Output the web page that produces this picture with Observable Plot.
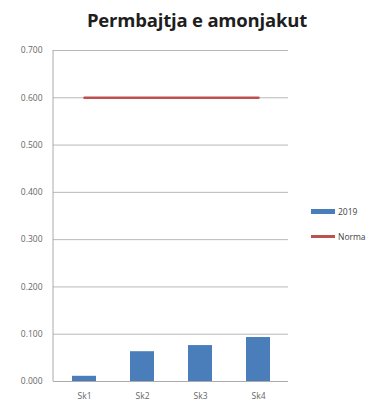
<!DOCTYPE html>
<html><head><meta charset="utf-8">
<script src="https://cdn.jsdelivr.net/npm/d3@7"></script>
<script src="https://cdn.jsdelivr.net/npm/@observablehq/plot@0.6"></script>
<style>
body{margin:0;background:#fff;font-family:"Open Sans",sans-serif;}
#wrap{position:relative;width:372px;height:402px;}
#title{height:36px;text-align:center;font-weight:bold;font-size:18.5px;color:#1e1e1e;line-height:40px;padding-left:22px;box-sizing:border-box;letter-spacing:-0.2px;}
.leg{position:absolute;left:311px;font-size:8.5px;color:#444;display:flex;align-items:center;white-space:nowrap;}
.sw{width:24px;margin-right:3px;}
</style></head><body>
<div id="wrap">
<div id="title">Permbajtja e amonjakut</div>
<div id="chart"></div>
<div class="leg" style="top:206px"><div class="sw" style="height:5px;background:#4a7ebb"></div><span>2019</span></div>
<div class="leg" style="top:231px"><div class="sw" style="height:3px;background:#c0504d"></div><span>Norma</span></div>
</div>
<script>
const categories = ["Sk1", "Sk2", "Sk3", "Sk4"];
const values2019 = [0.011, 0.063, 0.076, 0.093];
const norma = [0.6, 0.6, 0.6, 0.6];
const yTicks = [0, 0.1, 0.2, 0.3, 0.4, 0.5, 0.6, 0.7];

const bars = categories.map((c, i) => ({cat: c, v: values2019[i]}));
const line = categories.map((c, i) => ({cat: c, v: norma[i]}));

const plot = Plot.plot({
  width: 372, height: 366,
  marginTop: 14, marginBottom: 21, marginLeft: 53, marginRight: 84,
  style: {fontFamily: "Open Sans, sans-serif", fontSize: "8.5px", color: "#666"},
  x: {domain: categories, paddingInner: 0.59, paddingOuter: 0.295, label: null, tickSize: 0, tickPadding: 11},
  y: {domain: [0, 0.7], ticks: yTicks, tickFormat: ".3f", label: null, tickSize: 0, tickPadding: 11},
  marks: [
    Plot.gridY(yTicks, {stroke: "#b8b8b8", strokeOpacity: 1}),
    Plot.barY(bars, {x: "cat", y: "v", fill: "#4a7ebb"}),
    Plot.lineY(line, {x: "cat", y: "v", stroke: "#c0504d", strokeWidth: 2.5}),
    Plot.ruleY([0], {stroke: "#aaa"})
  ]
});
document.getElementById("chart").appendChild(plot);
const ys = plot.scale("y");
d3.select(plot).append("line")
  .attr("x1", 53).attr("x2", 53)
  .attr("y1", ys.apply(0.7)).attr("y2", ys.apply(0))
  .attr("stroke", "#aaa");
</script>
</body></html>
